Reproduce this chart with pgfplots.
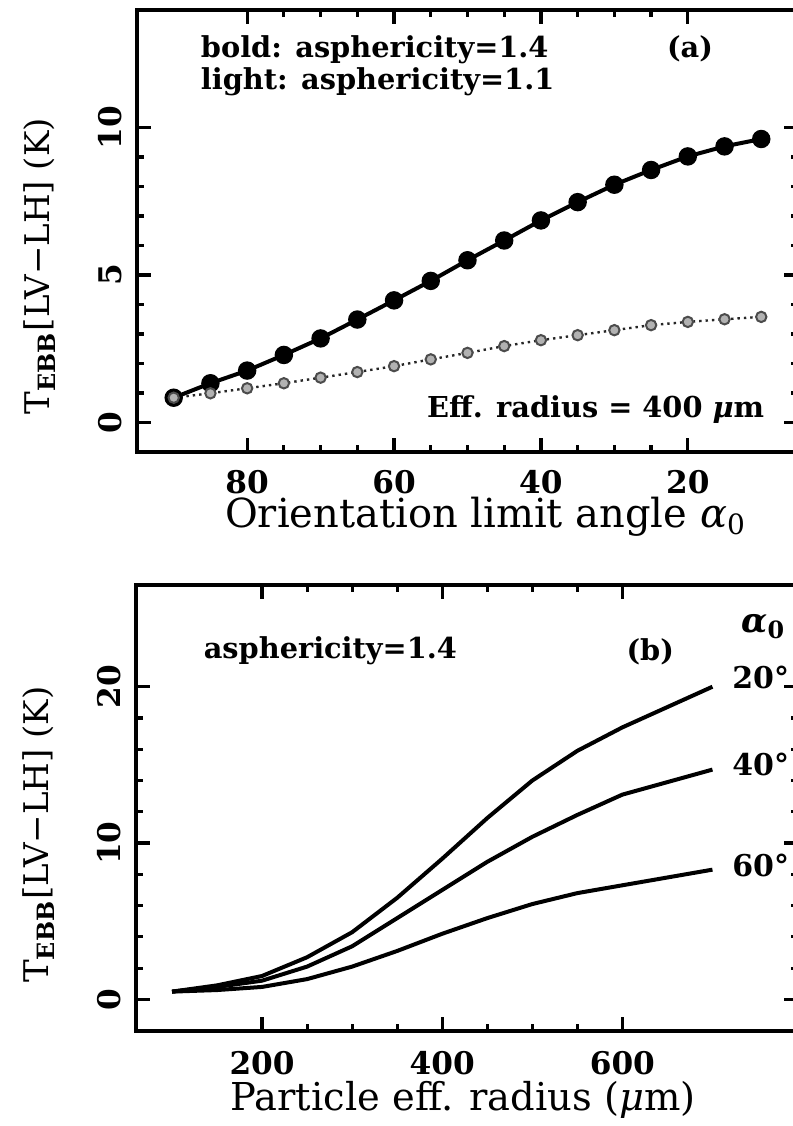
\documentclass[border=0pt]{standalone}
\usepackage{pgfplots}
\pgfplotsset{compat=1.18}
\usepackage{fontspec}
\setmainfont{DejaVu Serif}

\pgfplotstableread{
a T
90 0.84
85 1.33
80 1.76
75 2.29
70 2.85
65 3.49
60 4.14
55 4.80
50 5.50
45 6.17
40 6.85
35 7.47
30 8.06
25 8.56
20 9.02
15 9.36
10 9.61
}\bold

\pgfplotstableread{
a T
90 0.84
85 0.99
80 1.16
75 1.33
70 1.52
65 1.71
60 1.91
55 2.14
50 2.36
45 2.59
40 2.79
35 2.96
30 3.13
25 3.30
20 3.41
15 3.50
10 3.58
}\light

\pgfplotstableread{
r a20 a40 a60
100 0.5 0.5 0.5
150 0.9 0.8 0.6
200 1.5 1.2 0.8
250 2.7 2.1 1.3
300 4.3 3.4 2.1
350 6.5 5.2 3.1
400 9.0 7.0 4.2
450 11.6 8.8 5.2
500 14.0 10.4 6.1
550 15.9 11.8 6.8
600 17.4 13.1 7.3
650 18.7 13.9 7.8
700 20.0 14.7 8.3
}\partb

\tikzset{annot/.style={inner sep=0pt, font=\fontsize{7.2}{8}\selectfont\bfseries}}

\begin{document}
\begin{tikzpicture}
\pgfplotsset{
  every axis/.append style={
    scale only axis, clip=false,
    axis line style={line width=1pt},
    every tick/.style={black, line width=0.8pt},
    major tick length=3.5pt, minor tick length=1.75pt,
    tick label style={font=\fontsize{7.8}{9}\selectfont\bfseries},
    /pgf/number format/assume math mode=true,
    xticklabel style={anchor=north, inner sep=0pt, yshift=-4.5pt},
    yticklabel style={xshift=-3.5pt, rotate=90, anchor=south, inner sep=0pt},
    label style={font=\fontsize{10}{12}\selectfont},
    ylabel style={font=\fontsize{8.5}{10}\selectfont},
  }
}
% panel (a)
\begin{axis}[
  at={(34.25pt,168.5pt)}, anchor=south west,
  width=165.25pt, height=110.625pt,
  x dir=reverse, xmin=5, xmax=95, ymin=-1, ymax=14,
  xtick={20,40,60,80}, minor x tick num=3,
  ytick={0,5,10}, minor y tick num=4,
  xlabel={Orientation limit angle \textit{α}\textsubscript{0}},
  ylabel={T\textsubscript{\textbf{EBB}}[LV−LH] (K)},
  xlabel style={at={(axis description cs:0.528,-0.147)}, anchor=center},
  ylabel style={at={(axis description cs:-0.147,0.42)}, anchor=center},
]
\addplot[black, line width=1pt, mark=*, mark size=1.8pt, mark options={solid, fill=black}] table[x=a, y=T] {\bold};
\addplot[gray!30!black, line width=0.6pt, densely dotted, mark=*, mark size=1.3pt, mark options={solid, fill=gray!60, draw=gray!60!black, line width=0.5pt}] table[x=a, y=T] {\light};
\node[annot, anchor=base west] at (axis cs:86.4,12.36) {bold: asphericity=1.4};
\node[annot, anchor=base west] at (axis cs:86.4,11.3) {light: asphericity=1.1};
\node[annot, anchor=base] at (axis cs:19.7,12.36) {(a)};
\node[annot, anchor=base east] at (axis cs:9.5,0.18) {Eff. radius = 400 \textit{μ}m};
\end{axis}
% panel (b)
\begin{axis}[
  at={(34pt,23.825pt)}, anchor=south west,
  width=165.5pt, height=111.4pt,
  xmin=60, xmax=795, ymin=-2, ymax=26.5,
  xtick={200,400,600}, minor x tick num=3,
  ytick={0,10,20}, minor y tick num=4,
  xticklabel style={yshift=-0.5pt},
  label style={font=\fontsize{9.6}{12}\selectfont},
  ylabel style={font=\fontsize{8.5}{10}\selectfont},
  xlabel={Particle eff. radius (\textit{μ}m)},
  ylabel={T\textsubscript{\textbf{EBB}}[LV−LH] (K)},
  xlabel style={at={(axis description cs:0.494,-0.155)}, anchor=center},
  ylabel style={at={(axis description cs:-0.147,0.44)}, anchor=center},
]
\addplot[black, line width=1pt] table[x=r, y=a20] {\partb};
\addplot[black, line width=1pt] table[x=r, y=a40] {\partb};
\addplot[black, line width=1pt] table[x=r, y=a60] {\partb};
\node[annot, anchor=base west] at (axis cs:134.4,21.8) {asphericity=1.4};
\node[annot, anchor=base] at (axis cs:631,21.7) {(b)};
\node[annot, anchor=base, font=\fontsize{8.5}{9}\selectfont\bfseries] at (axis cs:757,23.5) {\textit{α}\textsubscript{0}};
\node[annot, anchor=base east, font=\fontsize{7.5}{9}\selectfont\bfseries] at (axis cs:786,19.9) {20°};
\node[annot, anchor=base east, font=\fontsize{7.5}{9}\selectfont\bfseries] at (axis cs:786,14.3) {40°};
\node[annot, anchor=base east, font=\fontsize{7.5}{9}\selectfont\bfseries] at (axis cs:786,7.85) {60°};
\end{axis}
\pgfresetboundingbox
\useasboundingbox (0,0) rectangle (198.25pt,281.5pt);
\end{tikzpicture}
\end{document}
